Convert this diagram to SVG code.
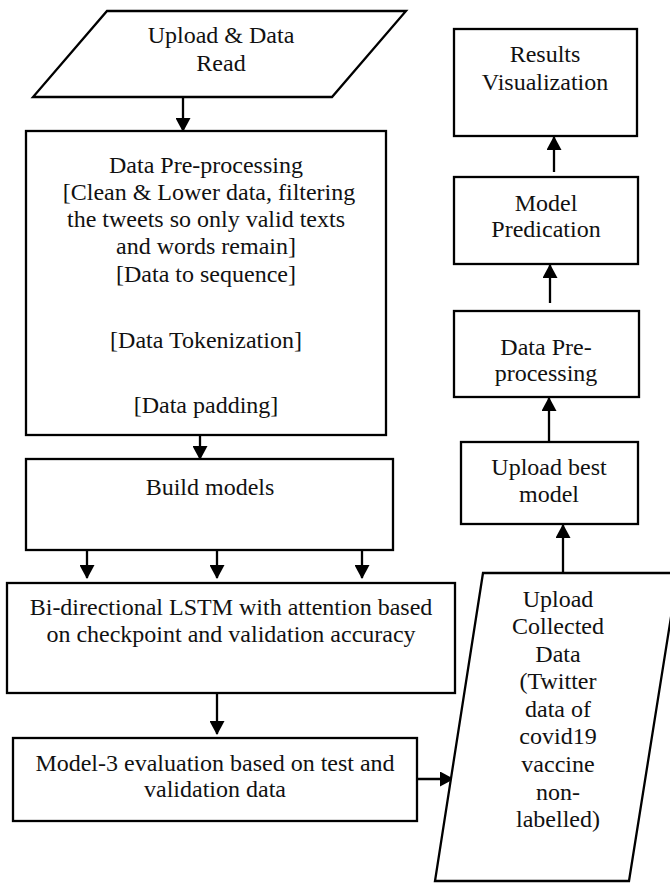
<svg xmlns="http://www.w3.org/2000/svg" width="670" height="883" viewBox="0 0 670 883" font-family="'Liberation Serif', 'DejaVu Serif', serif">
<style>
.s{fill:#fff;stroke:#000;stroke-width:2.3}
text{font-family:'Liberation Serif','DejaVu Serif',serif;font-size:24px;fill:#111;text-anchor:middle}
.c{stroke:#000;stroke-width:2.3;fill:none;marker-end:url(#ah)}
</style>
<defs>
<marker id="ah" markerWidth="14" markerHeight="15" refX="13" refY="7.5" orient="auto" markerUnits="userSpaceOnUse" viewBox="0 0 14 15">
<path d="M0,0 L14,7.5 L0,15 Z" fill="#000"/>
</marker>
</defs>
<rect width="670" height="883" fill="#fff"/>
<g id="connectors">
<line class="c" x1="183" y1="97" x2="183" y2="131"/>
<line class="c" x1="200" y1="435" x2="200" y2="459"/>
<line class="c" x1="87" y1="551" x2="87" y2="578"/>
<line class="c" x1="217" y1="551" x2="217" y2="578"/>
<line class="c" x1="362" y1="551" x2="362" y2="578"/>
<line class="c" x1="217" y1="693" x2="217" y2="734"/>
<line class="c" x1="417" y1="779" x2="453" y2="779"/>
<line class="c" x1="563" y1="573" x2="563" y2="525"/>
<line class="c" x1="549" y1="442" x2="549" y2="398"/>
<line class="c" x1="550" y1="303" x2="550" y2="265"/>
<line class="c" x1="554" y1="172" x2="554" y2="137"/>
</g>
<g id="upload-data-read">
<polygon class="s" points="107,11 406,11 332,97 33,97"/>
<text x="221" y="43">Upload &amp; Data</text>
<text x="221" y="71">Read</text>
</g>
<g id="data-preprocessing">
<rect class="s" x="26" y="131" width="360" height="304"/>
<text x="206" y="173">Data Pre-processing</text>
<text x="209" y="200">[Clean &amp; Lower data, filtering</text>
<text x="206" y="227">the tweets so only valid texts</text>
<text x="206" y="254">and words remain]</text>
<text x="206" y="282">[Data to sequence]</text>
<text x="206" y="348">[Data Tokenization]</text>
<text x="206" y="413">[Data padding]</text>
</g>
<g id="build-models">
<rect class="s" x="26" y="459" width="367" height="91"/>
<text x="210" y="495">Build models</text>
</g>
<g id="bilstm">
<rect class="s" x="7" y="583" width="448" height="110"/>
<text x="231" y="615">Bi-directional LSTM with attention based</text>
<text x="231" y="642">on checkpoint and validation accuracy</text>
</g>
<g id="model3-eval">
<rect class="s" x="13" y="738" width="404" height="83"/>
<text x="215" y="771">Model-3 evaluation based on test and</text>
<text x="215" y="797">validation data</text>
</g>
<g id="upload-collected">
<polygon class="s" points="483,573 678,573 629,881 435,881"/>
<text x="558" y="607">Upload</text>
<text x="558" y="634">Collected</text>
<text x="558" y="662">Data</text>
<text x="558" y="689">(Twitter</text>
<text x="558" y="717">data of</text>
<text x="558" y="744">covid19</text>
<text x="558" y="772">vaccine</text>
<text x="558" y="800">non-</text>
<text x="558" y="827">labelled)</text>
</g>
<g id="upload-best-model">
<rect class="s" x="461" y="442" width="177" height="82"/>
<text x="549" y="475">Upload best</text>
<text x="549" y="502">model</text>
</g>
<g id="data-preprocessing-2">
<rect class="s" x="454" y="311" width="185" height="86"/>
<text x="546" y="355">Data Pre-</text>
<text x="546" y="381">processing</text>
</g>
<g id="model-predication">
<rect class="s" x="454" y="177" width="184" height="87"/>
<text x="546" y="211">Model</text>
<text x="546" y="237">Predication</text>
</g>
<g id="results-visualization">
<rect class="s" x="454" y="29" width="183" height="107"/>
<text x="545" y="62">Results</text>
<text x="545" y="90">Visualization</text>
</g>
</svg>
